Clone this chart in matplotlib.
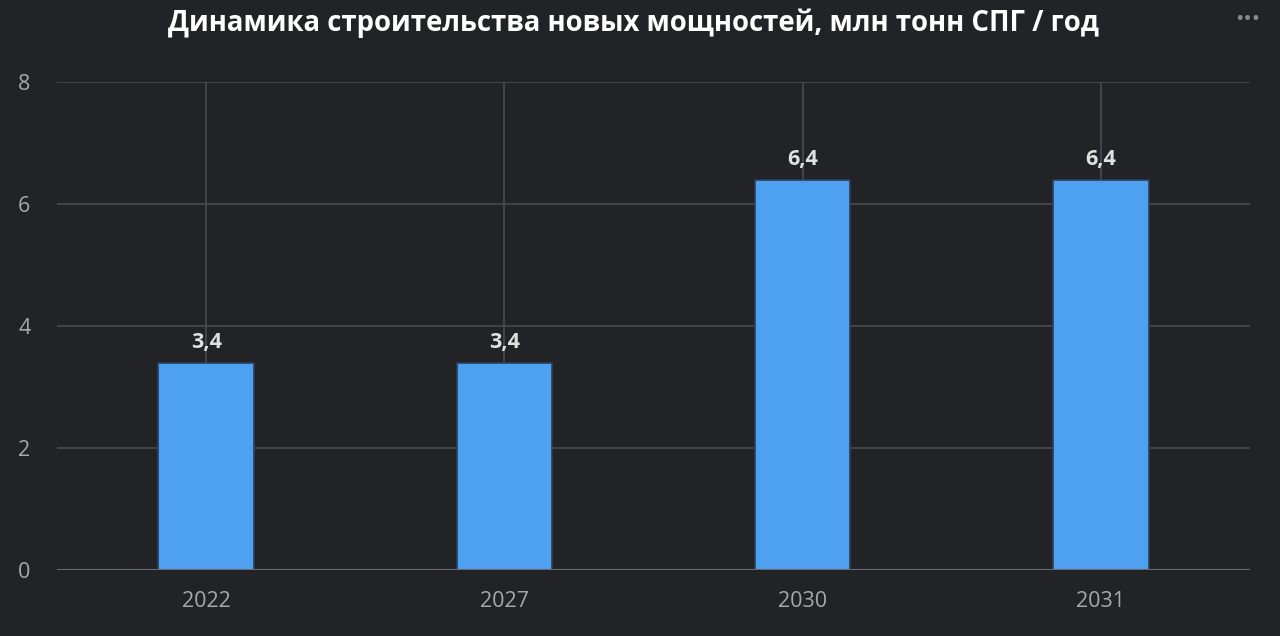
import matplotlib
matplotlib.use("Agg")
import matplotlib.pyplot as plt

categories = ["2022", "2027", "2030", "2031"]
values = [3.4, 3.4, 6.4, 6.4]
value_labels = ["3,4", "3,4", "6,4", "6,4"]
y_ticks = [0, 2, 4, 6, 8]
title = "Динамика строительства новых мощностей, млн тонн СПГ / год"

BG = "#222327"
GRID = "#4a4b50"

plt.rcParams['font.family'] = ['Open Sans', 'DejaVu Sans']

fig = plt.figure(figsize=(12.8, 6.36), dpi=100, facecolor=BG)
ax = fig.add_axes([57/1280, 1-570/636, (1250-57)/1280, (570-82)/636])
ax.set_facecolor(BG)

x = list(range(len(categories)))
ax.set_xlim(-0.5, len(categories) - 0.5)
ax.set_ylim(0, 8)

for yt in y_ticks[1:]:
    ax.axhline(yt, color=GRID, lw=1.2, zorder=0)
for xi in x:
    ax.axvline(xi, color=GRID, lw=1.2, zorder=0)
ax.axhline(0, color="#6a6b70", lw=1.5, zorder=3)

ax.bar(x, values, width=0.32, color="#4da1f0", edgecolor="#2c3e55", linewidth=1.2, zorder=2)

for xi, v, lab in zip(x, values, value_labels):
    ax.annotate(lab, (xi, v), xytext=(0, 7), textcoords="offset points",
                ha="center", va="bottom", color="#e0e0e0", fontsize=15.5,
                fontweight="bold", zorder=4)

ax.set_xticks(x)
ax.set_xticklabels(categories)
ax.set_yticks(y_ticks)
ax.tick_params(axis="both", length=0, colors="#a8a8a8", labelsize=15.5)
ax.tick_params(axis="x", pad=15)
ax.tick_params(axis="y", pad=28)
for lab in ax.get_yticklabels():
    lab.set_horizontalalignment("left")
for s in ax.spines.values():
    s.set_visible(False)

fig.text(633/1280, 1-23/636, title, ha="center", va="center", color="white",
         fontsize=19.8, fontweight="bold")
fig.text(1248/1280, 1-19/636, "•••", ha="center", va="center", color="#8a8a8e",
         fontsize=16)

fig.savefig("out.png", dpi=100, facecolor=BG)
